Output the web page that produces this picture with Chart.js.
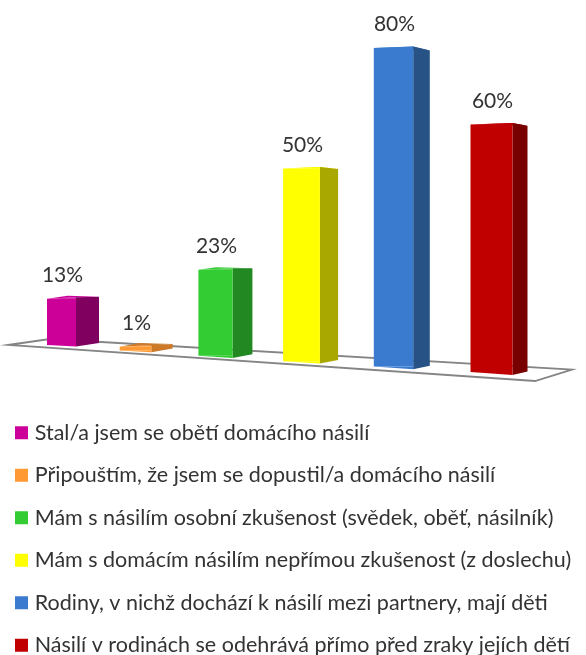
<!DOCTYPE html>
<html>
<head>
<meta charset="utf-8">
<style>html,body{margin:0;padding:0;background:#fff}canvas{display:block}</style>
<script src="https://cdn.jsdelivr.net/npm/chart.js@4/dist/chart.umd.min.js"></script>
</head>
<body>
<canvas id="c" width="586" height="655"></canvas>
<script>
const categories = [
  "Stal/a jsem se obětí domácího násilí",
  "Připouštím, že jsem se dopustil/a domácího násilí",
  "Mám s násilím osobní zkušenost (svědek, oběť, násilník)",
  "Mám s domácím násilím nepřímou zkušenost (z doslechu)",
  "Rodiny, v nichž dochází k násilí mezi partnery, mají děti",
  "Násilí v rodinách se odehrává přímo před zraky jejích dětí"
];
const values = [13, 1, 23, 50, 80, 60];
const frontColors = ["#CC0099", "#FF9933", "#33CC33", "#FFFF00", "#3A7BD0", "#C00000"];
const sideColors  = ["#800060", "#CC7A29", "#228822", "#A8A800", "#265285", "#780000"];
const topColors   = ["#CC0099", "#CC7A29", "#33CC33", "#FFFF00", "#3A7BD0", "#C00000"];

const FONT = "Lato";
const TEXT = "#333333";

// Perspective camera of the 3D plot: maps the flat scale positions to the oblique view.
const camera = {
  x: t => 61.5 + 71 * t + 3 * t * t,
  width: t => 29 + 2.6 * t,
  depth: t => 23 - 1.6 * t,
  floor: t => 345 + 5.4 * t,
  unit: t => 3.55 + 0.08 * t + 0.007 * t * t,
  tilt: t => 1.5 + 0.3 * t
};

const perspective = {
  id: "perspective",
  afterDatasetsUpdate(chart) {
    const meta = chart.getDatasetMeta(0);
    const xs = chart.scales.x, ys = chart.scales.y, a = chart.chartArea;
    meta.data.forEach((el, i) => {
      const t = (xs.getPixelForValue(i) - a.left) / a.width * 6 - 0.5;
      const zero = ys.getPixelForValue(0);
      const unitPx = (zero - ys.getPixelForValue(100)) / 100;
      const h = (zero - ys.getPixelForValue(values[i])) / unitPx;
      el.x = camera.x(t);
      el.width = camera.width(t);
      el.base = camera.floor(t);
      el.y = el.base - h * camera.unit(t);
      el.$t = t;
    });
  },
  beforeDatasetsDraw(chart) {
    const ctx = chart.ctx;
    // floor of the plot
    ctx.save();
    ctx.beginPath();
    ctx.moveTo(8, 345); ctx.lineTo(50, 339); ctx.lineTo(572, 369.5); ctx.lineTo(535, 381);
    ctx.closePath();
    ctx.fillStyle = "#fff"; ctx.fill();
    ctx.strokeStyle = "#858585"; ctx.lineWidth = 1.8; ctx.stroke();
    chart.getDatasetMeta(0).data.forEach((el, i) => {
      const t = el.$t, L = el.x - el.width / 2, R = el.x + el.width / 2, d = camera.depth(t);
      const tr = el.y - 1.5, br = el.base + camera.tilt(t);
      const bt = tr + (270 - tr) * 0.018, bb = br - 3.6;
      ctx.fillStyle = topColors[i];
      ctx.beginPath();
      ctx.moveTo(L, el.y); ctx.lineTo(R, tr); ctx.lineTo(R + d, bt); ctx.lineTo(L + d * 0.9, bt - 1);
      ctx.closePath(); ctx.fill();
      ctx.fillStyle = sideColors[i];
      ctx.beginPath();
      ctx.moveTo(R, tr); ctx.lineTo(R + d, bt); ctx.lineTo(R + d, bb); ctx.lineTo(R, br);
      ctx.closePath(); ctx.fill();
    });
    ctx.restore();
  },
  afterDatasetsDraw(chart) {
    const ctx = chart.ctx;
    ctx.save();
    chart.getDatasetMeta(0).data.forEach((el, i) => {
      const t = el.$t, L = el.x - el.width / 2, R = el.x + el.width / 2;
      ctx.fillStyle = frontColors[i];
      ctx.beginPath();
      ctx.moveTo(L, el.y); ctx.lineTo(R, el.y - 1.5); ctx.lineTo(R, el.y);
      ctx.moveTo(L, el.base); ctx.lineTo(R, el.base); ctx.lineTo(R, el.base + camera.tilt(t));
      ctx.fill();
      ctx.fillStyle = TEXT;
      ctx.font = "21px " + FONT;
      ctx.textAlign = "center";
      ctx.textBaseline = "middle";
      ctx.fillText(values[i] + "%", el.x + 1, el.y - 23.5);
    });
    ctx.restore();
  }
};

new Chart(document.getElementById("c"), {
  type: "bar",
  data: {
    labels: categories,
    datasets: [{ data: values, backgroundColor: frontColors, borderWidth: 0 }]
  },
  plugins: [perspective],
  options: {
    responsive: false,
    animation: false,
    layout: { padding: { left: -2, bottom: -11 } },
    scales: {
      x: { display: false },
      y: { display: false, min: 0, max: 100 }
    },
    plugins: {
      tooltip: { enabled: false },
      legend: {
        display: true,
        position: "bottom",
        align: "start",
        labels: {
          boxWidth: 5,
          boxHeight: 5,
          padding: 21,
          color: TEXT,
          font: { family: FONT, size: 21.5 },
          generateLabels: () => categories.map((c, i) => ({
            text: c,
            fillStyle: frontColors[i],
            strokeStyle: frontColors[i],
            lineWidth: 8,
            fontColor: TEXT,
            index: i,
            datasetIndex: 0
          }))
        }
      }
    }
  }
});
</script>
</body>
</html>
